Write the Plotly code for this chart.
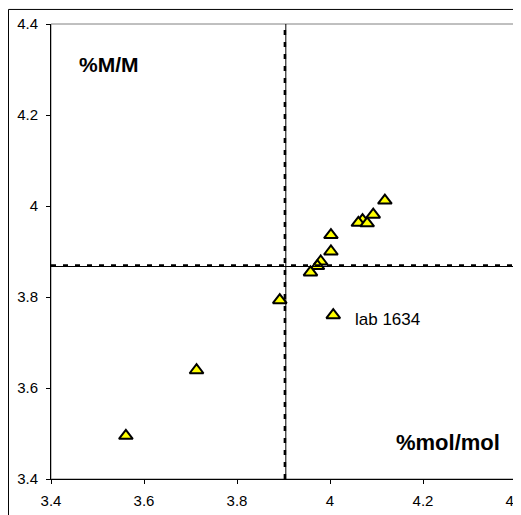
import plotly.graph_objects as go

# Data (x: %mol/mol, y: %M/M)
x_vals = [3.561, 3.713, 3.892, 4.118, 4.093, 4.070, 4.061, 4.080, 4.002, 4.002, 3.980, 3.973, 3.958, 4.007]
y_vals = [3.495, 3.639, 3.793, 4.012, 3.981, 3.969, 3.963, 3.962, 3.936, 3.900, 3.878, 3.868, 3.854, 3.760]

# Reference lines
x_ref_solid = 3.905
x_ref_dash = 3.903
y_ref_solid = 3.867
y_ref_dash = 3.869

x_ticks = [3.4, 3.6, 3.8, 4.0, 4.2, 4.4]
x_tick_text = ["3.4", "3.6", "3.8", "4", "4.2", "4.4"]
y_ticks = [3.4, 3.6, 3.8, 4.0, 4.2, 4.4]
y_tick_text = ["3.4", "3.6", "3.8", "4", "4.2", "4.4"]

label_point = (4.007, 3.760)
label_text = "lab 1634"

FONT = "Liberation Sans, Arial, sans-serif"

fig = go.Figure()
fig.add_trace(go.Scatter(
    x=x_vals, y=y_vals, mode="markers",
    marker=dict(symbol="triangle-up", size=12, color="#FFFF00",
                line=dict(color="black", width=2)),
    showlegend=False, hoverinfo="x+y",
))

shapes = [
    # plot area border (gray)
    dict(type="rect", xref="paper", yref="paper", x0=0, x1=1, y0=0, y1=1,
         line=dict(color="#808080", width=1), layer="below"),
    # outer chart frame
    dict(type="rect", xref="paper", yref="paper", x0=-0.0914, x1=1.3, y0=-0.3, y1=1.032,
         line=dict(color="black", width=1), layer="below"),
    # vertical lines
    dict(type="line", xref="x", yref="paper", x0=x_ref_solid, x1=x_ref_solid, y0=0, y1=1,
         line=dict(color="black", width=1)),
    dict(type="line", xref="x", yref="paper", x0=x_ref_dash, x1=x_ref_dash, y0=0, y1=1,
         line=dict(color="black", width=2.5, dash="5px,7px")),
    # horizontal lines
    dict(type="line", xref="paper", yref="y", x0=0, x1=1, y0=y_ref_solid, y1=y_ref_solid,
         line=dict(color="black", width=1)),
    dict(type="line", xref="paper", yref="y", x0=0, x1=1, y0=y_ref_dash, y1=y_ref_dash,
         line=dict(color="black", width=2.5, dash="5px,7px")),
]

annotations = [
    dict(x=0.056, y=0.910, xref="paper", yref="paper", text="<b>%M/M</b>",
         showarrow=False, xanchor="left", yanchor="middle",
         font=dict(family=FONT, size=21, color="black")),
    dict(x=0.970, y=0.081, xref="paper", yref="paper", text="<b>%mol/mol</b>",
         showarrow=False, xanchor="right", yanchor="middle",
         font=dict(family=FONT, size=22, color="black")),
    dict(x=label_point[0], y=label_point[1], xref="x", yref="y", text=label_text,
         showarrow=False, xanchor="left", yanchor="middle", xshift=20, yshift=-4,
         font=dict(family=FONT, size=17, color="black")),
]

fig.update_layout(
    width=513, height=507,
    margin=dict(l=43, r=5, t=16, b=36, autoexpand=False),
    paper_bgcolor="white", plot_bgcolor="white",
    font=dict(family=FONT, size=15, color="black"),
    shapes=shapes, annotations=annotations,
    xaxis=dict(range=[3.4, 4.4], tickvals=x_ticks, ticktext=x_tick_text,
               showgrid=False, zeroline=False, showline=True, linecolor="black",
               linewidth=1, ticks="outside", ticklen=4, tickcolor="black",
               automargin=False, ticklabelstandoff=4, ticklabeloverflow="allow",
               tickfont=dict(family=FONT, size=15, color="black")),
    yaxis=dict(range=[3.4, 4.4], tickvals=y_ticks, ticktext=y_tick_text,
               showgrid=False, zeroline=False, showline=True, linecolor="black",
               linewidth=1, ticks="outside", ticklen=4, tickcolor="black",
               automargin=False, ticklabelstandoff=5, ticklabeloverflow="allow",
               tickfont=dict(family=FONT, size=15, color="black")),
)

fig.write_html("out.html")
